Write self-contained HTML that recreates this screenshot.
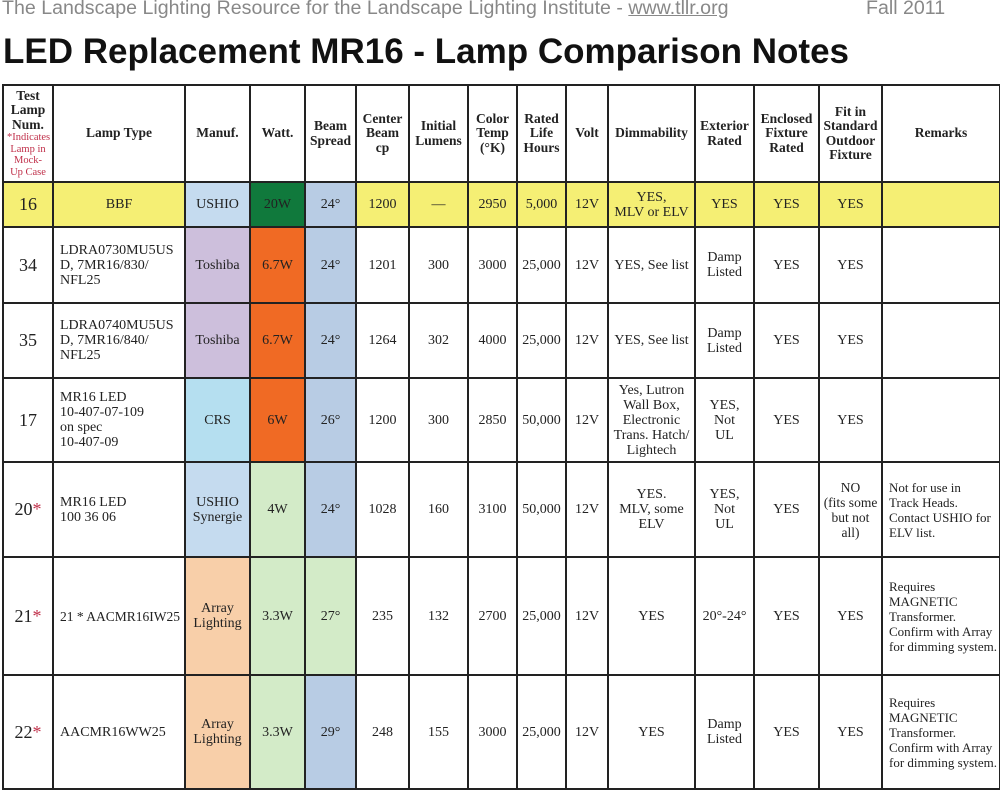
<!DOCTYPE html>
<html><head><meta charset="utf-8"><style>
body{margin:0;width:1000px;height:788px;overflow:hidden;background:#fff;position:relative;font-family:"Liberation Serif",serif}
.top{position:absolute;left:2px;top:-3px;font:19.6px "Liberation Sans",sans-serif;color:#888;white-space:nowrap}
.top a{color:#888;text-decoration:underline}
.fall{position:absolute;left:866px;top:-3px;font:19.6px "Liberation Sans",sans-serif;color:#888}
h1{position:absolute;left:3px;top:32px;margin:0;font:bold 35px "Liberation Sans",sans-serif;color:#111;white-space:nowrap}
table{position:absolute;left:2px;top:84px;border-collapse:collapse;table-layout:fixed;width:997px}
td{border:2px solid #222;text-align:center;vertical-align:middle;font-size:14px;line-height:15px;color:#222;padding:0 3px;overflow:hidden}
tr.h td{font-weight:bold;font-size:13.5px;line-height:14.5px}
td.n{font-size:18px}
td.l{text-align:left;padding-left:6px;padding-right:2px;white-space:nowrap}
td.rm{font-size:13px}
.r{color:#c0304a}
.y{background:#f5ef74}.ub{background:#c5dbef}.g{background:#10793c}.bb{background:#b8cce4}
.lv{background:#cdbfdc}.o{background:#f06a24}.cb{background:#b5dff0}.lg{background:#d3ebc8}.p{background:#f8cfa9}
</style></head><body>
<div class="top">The Landscape Lighting Resource for the Landscape Lighting Institute - <a>www.tllr.org</a></div>
<div class="fall">Fall 2011</div>
<h1>LED Replacement MR16 - Lamp Comparison Notes</h1>
<table>
<colgroup><col style="width:50px"><col style="width:132px"><col style="width:65px"><col style="width:55px"><col style="width:51px"><col style="width:53px"><col style="width:59px"><col style="width:49px"><col style="width:49px"><col style="width:42px"><col style="width:87px"><col style="width:59px"><col style="width:65px"><col style="width:63px"><col style="width:118px"></colgroup>
<tr class="h" style="height:97px"><td>Test Lamp Num.<br><span class="r" style="font-weight:normal;font-size:10.5px;line-height:11.5px;display:block">*Indicates Lamp in Mock-<br>Up Case</span></td><td>Lamp Type</td><td>Manuf.</td><td>Watt.</td><td>Beam Spread</td><td>Center Beam<br>cp</td><td>Initial Lumens</td><td>Color Temp (°K)</td><td>Rated Life Hours</td><td>Volt</td><td>Dimmability</td><td>Exterior Rated</td><td>Enclosed Fixture Rated</td><td>Fit in Standard Outdoor Fixture</td><td>Remarks</td></tr>
<tr class="y" style="height:45px"><td class="n">16</td><td>BBF</td><td class="ub">USHIO</td><td class="g">20W</td><td class="bb">24°</td><td>1200</td><td>—</td><td>2950</td><td>5,000</td><td>12V</td><td>YES,<br>MLV or ELV</td><td>YES</td><td>YES</td><td>YES</td><td></td></tr>
<tr style="height:76px"><td class="n">34</td><td class="l">LDRA0730MU5US<br>D, 7MR16/830/<br>NFL25</td><td class="lv">Toshiba</td><td class="o">6.7W</td><td class="bb">24°</td><td>1201</td><td>300</td><td>3000</td><td>25,000</td><td>12V</td><td>YES, See list</td><td>Damp Listed</td><td>YES</td><td>YES</td><td></td></tr>
<tr style="height:75px"><td class="n">35</td><td class="l">LDRA0740MU5US<br>D, 7MR16/840/<br>NFL25</td><td class="lv">Toshiba</td><td class="o">6.7W</td><td class="bb">24°</td><td>1264</td><td>302</td><td>4000</td><td>25,000</td><td>12V</td><td>YES, See list</td><td>Damp Listed</td><td>YES</td><td>YES</td><td></td></tr>
<tr style="height:84px"><td class="n">17</td><td class="l">MR16 LED<br>10-407-07-109<br>on spec<br>10-407-09</td><td class="cb">CRS</td><td class="o">6W</td><td class="bb">26°</td><td>1200</td><td>300</td><td>2850</td><td>50,000</td><td>12V</td><td>Yes, Lutron Wall Box, Electronic Trans. Hatch/ Lightech</td><td>YES,<br>Not<br>UL</td><td>YES</td><td>YES</td><td></td></tr>
<tr style="height:95px"><td class="n">20<span class="r">*</span></td><td class="l">MR16 LED<br>100 36 06</td><td class="ub">USHIO Synergie</td><td class="lg">4W</td><td class="bb">24°</td><td>1028</td><td>160</td><td>3100</td><td>50,000</td><td>12V</td><td>YES.<br>MLV, some ELV</td><td>YES,<br>Not<br>UL</td><td>YES</td><td style="white-space:nowrap;font-size:13.5px">NO<br>(fits some<br>but not<br>all)</td><td class="l rm">Not for use in<br>Track Heads.<br>Contact USHIO for<br>ELV list.</td></tr>
<tr style="height:118px"><td class="n">21<span class="r">*</span></td><td class="l" style="font-size:13.5px">21 * AACMR16IW25</td><td class="p">Array Lighting</td><td class="lg">3.3W</td><td class="lg">27°</td><td>235</td><td>132</td><td>2700</td><td>25,000</td><td>12V</td><td>YES</td><td>20°-24°</td><td>YES</td><td>YES</td><td class="l rm">Requires<br>MAGNETIC<br>Transformer.<br>Confirm with Array<br>for dimming system.</td></tr>
<tr style="height:114px"><td class="n">22<span class="r">*</span></td><td class="l">AACMR16WW25</td><td class="p">Array Lighting</td><td class="lg">3.3W</td><td class="bb">29°</td><td>248</td><td>155</td><td>3000</td><td>25,000</td><td>12V</td><td>YES</td><td>Damp Listed</td><td>YES</td><td>YES</td><td class="l rm">Requires<br>MAGNETIC<br>Transformer.<br>Confirm with Array<br>for dimming system.</td></tr>
</table>
</body></html>
